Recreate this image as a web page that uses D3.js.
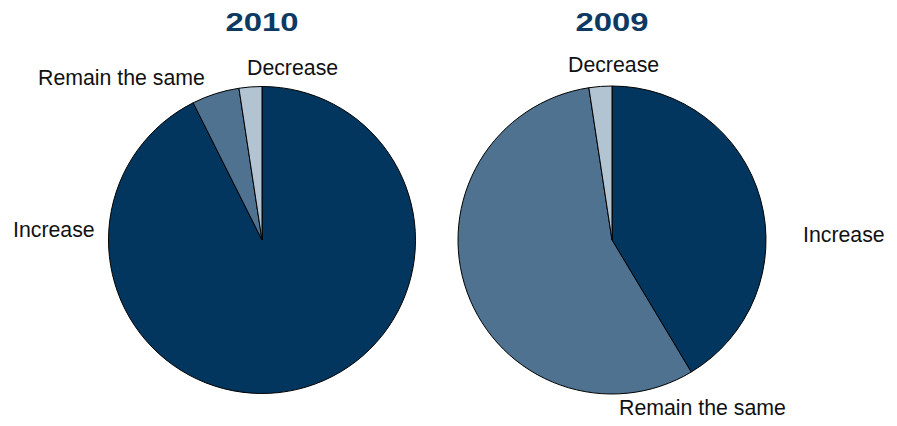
<!DOCTYPE html>
<html>
<head>
<meta charset="utf-8">
<script src="https://cdn.jsdelivr.net/npm/d3@7"></script>
<style>
  html, body { margin: 0; padding: 0; background: #ffffff; }
  svg { display: block; }
  text { font-family: "Liberation Sans", Arial, Helvetica, sans-serif; }
</style>
</head>
<body>
<svg id="chart" width="897" height="426"></svg>
<script>
// Survey answers, share of respondents (%)
const categories = ["Increase", "Remain the same", "Decrease"];
const years = ["2010", "2009"];
const values2010 = [92.6, 5.0, 2.4];
const values2009 = [41.4, 56.2, 2.4];
const colors = ["#02365f", "#4e7290", "#b2c3d1"];

const svg = d3.select("#chart");
const W = 897, H = 426;

// Two pies, side by side
const panels = [
  { year: years[0], values: values2010, cx: 262, cy: 240, r: 153.5,
    labels: [ { dx: -249, dy: -3, anchor: "start" },   // Increase
              { dx: -224, dy: -155, anchor: "start" }, // Remain the same
              { dx: -15, dy: -165, anchor: "start" } ] // Decrease
  },
  { year: years[1], values: values2009, cx: 612, cy: 240, r: 154,
    labels: [ { dx: 191, dy: 2, anchor: "start" },
              { dx: 7, dy: 175, anchor: "start" },
              { dx: -44, dy: -168, anchor: "start" } ]
  }
];

const color = d3.scaleOrdinal().domain(categories).range(colors);
const pie = d3.pie().sort(null).value(d => d.value);

panels.forEach(p => {
  const data = categories.map((c, i) => ({ cat: c, value: p.values[i] }));
  const arc = d3.arc().innerRadius(0).outerRadius(p.r);
  const g = svg.append("g").attr("transform", `translate(${p.cx},${p.cy})`);

  g.selectAll("path")
    .data(pie(data))
    .join("path")
    .attr("d", arc)
    .attr("fill", d => color(d.data.cat))
    .attr("stroke", "#000")
    .attr("stroke-width", 1)
    .attr("stroke-linejoin", "round");

  g.selectAll("text.lbl")
    .data(data)
    .join("text")
    .attr("class", "lbl")
    .attr("x", (d, i) => p.labels[i].dx)
    .attr("y", (d, i) => p.labels[i].dy)
    .attr("text-anchor", (d, i) => p.labels[i].anchor)
    .attr("font-size", 21.3)
    .attr("fill", "#111")
    .text(d => d.cat);

  svg.append("text")
    .attr("x", p.cx)
    .attr("y", 31)
    .attr("text-anchor", "middle")
    .attr("font-size", 25)
    .attr("font-weight", "bold")
    .attr("fill", "#0d3963")
    .attr("textLength", 73)
    .attr("lengthAdjust", "spacingAndGlyphs")
    .text(p.year);
});
</script>
</body>
</html>
